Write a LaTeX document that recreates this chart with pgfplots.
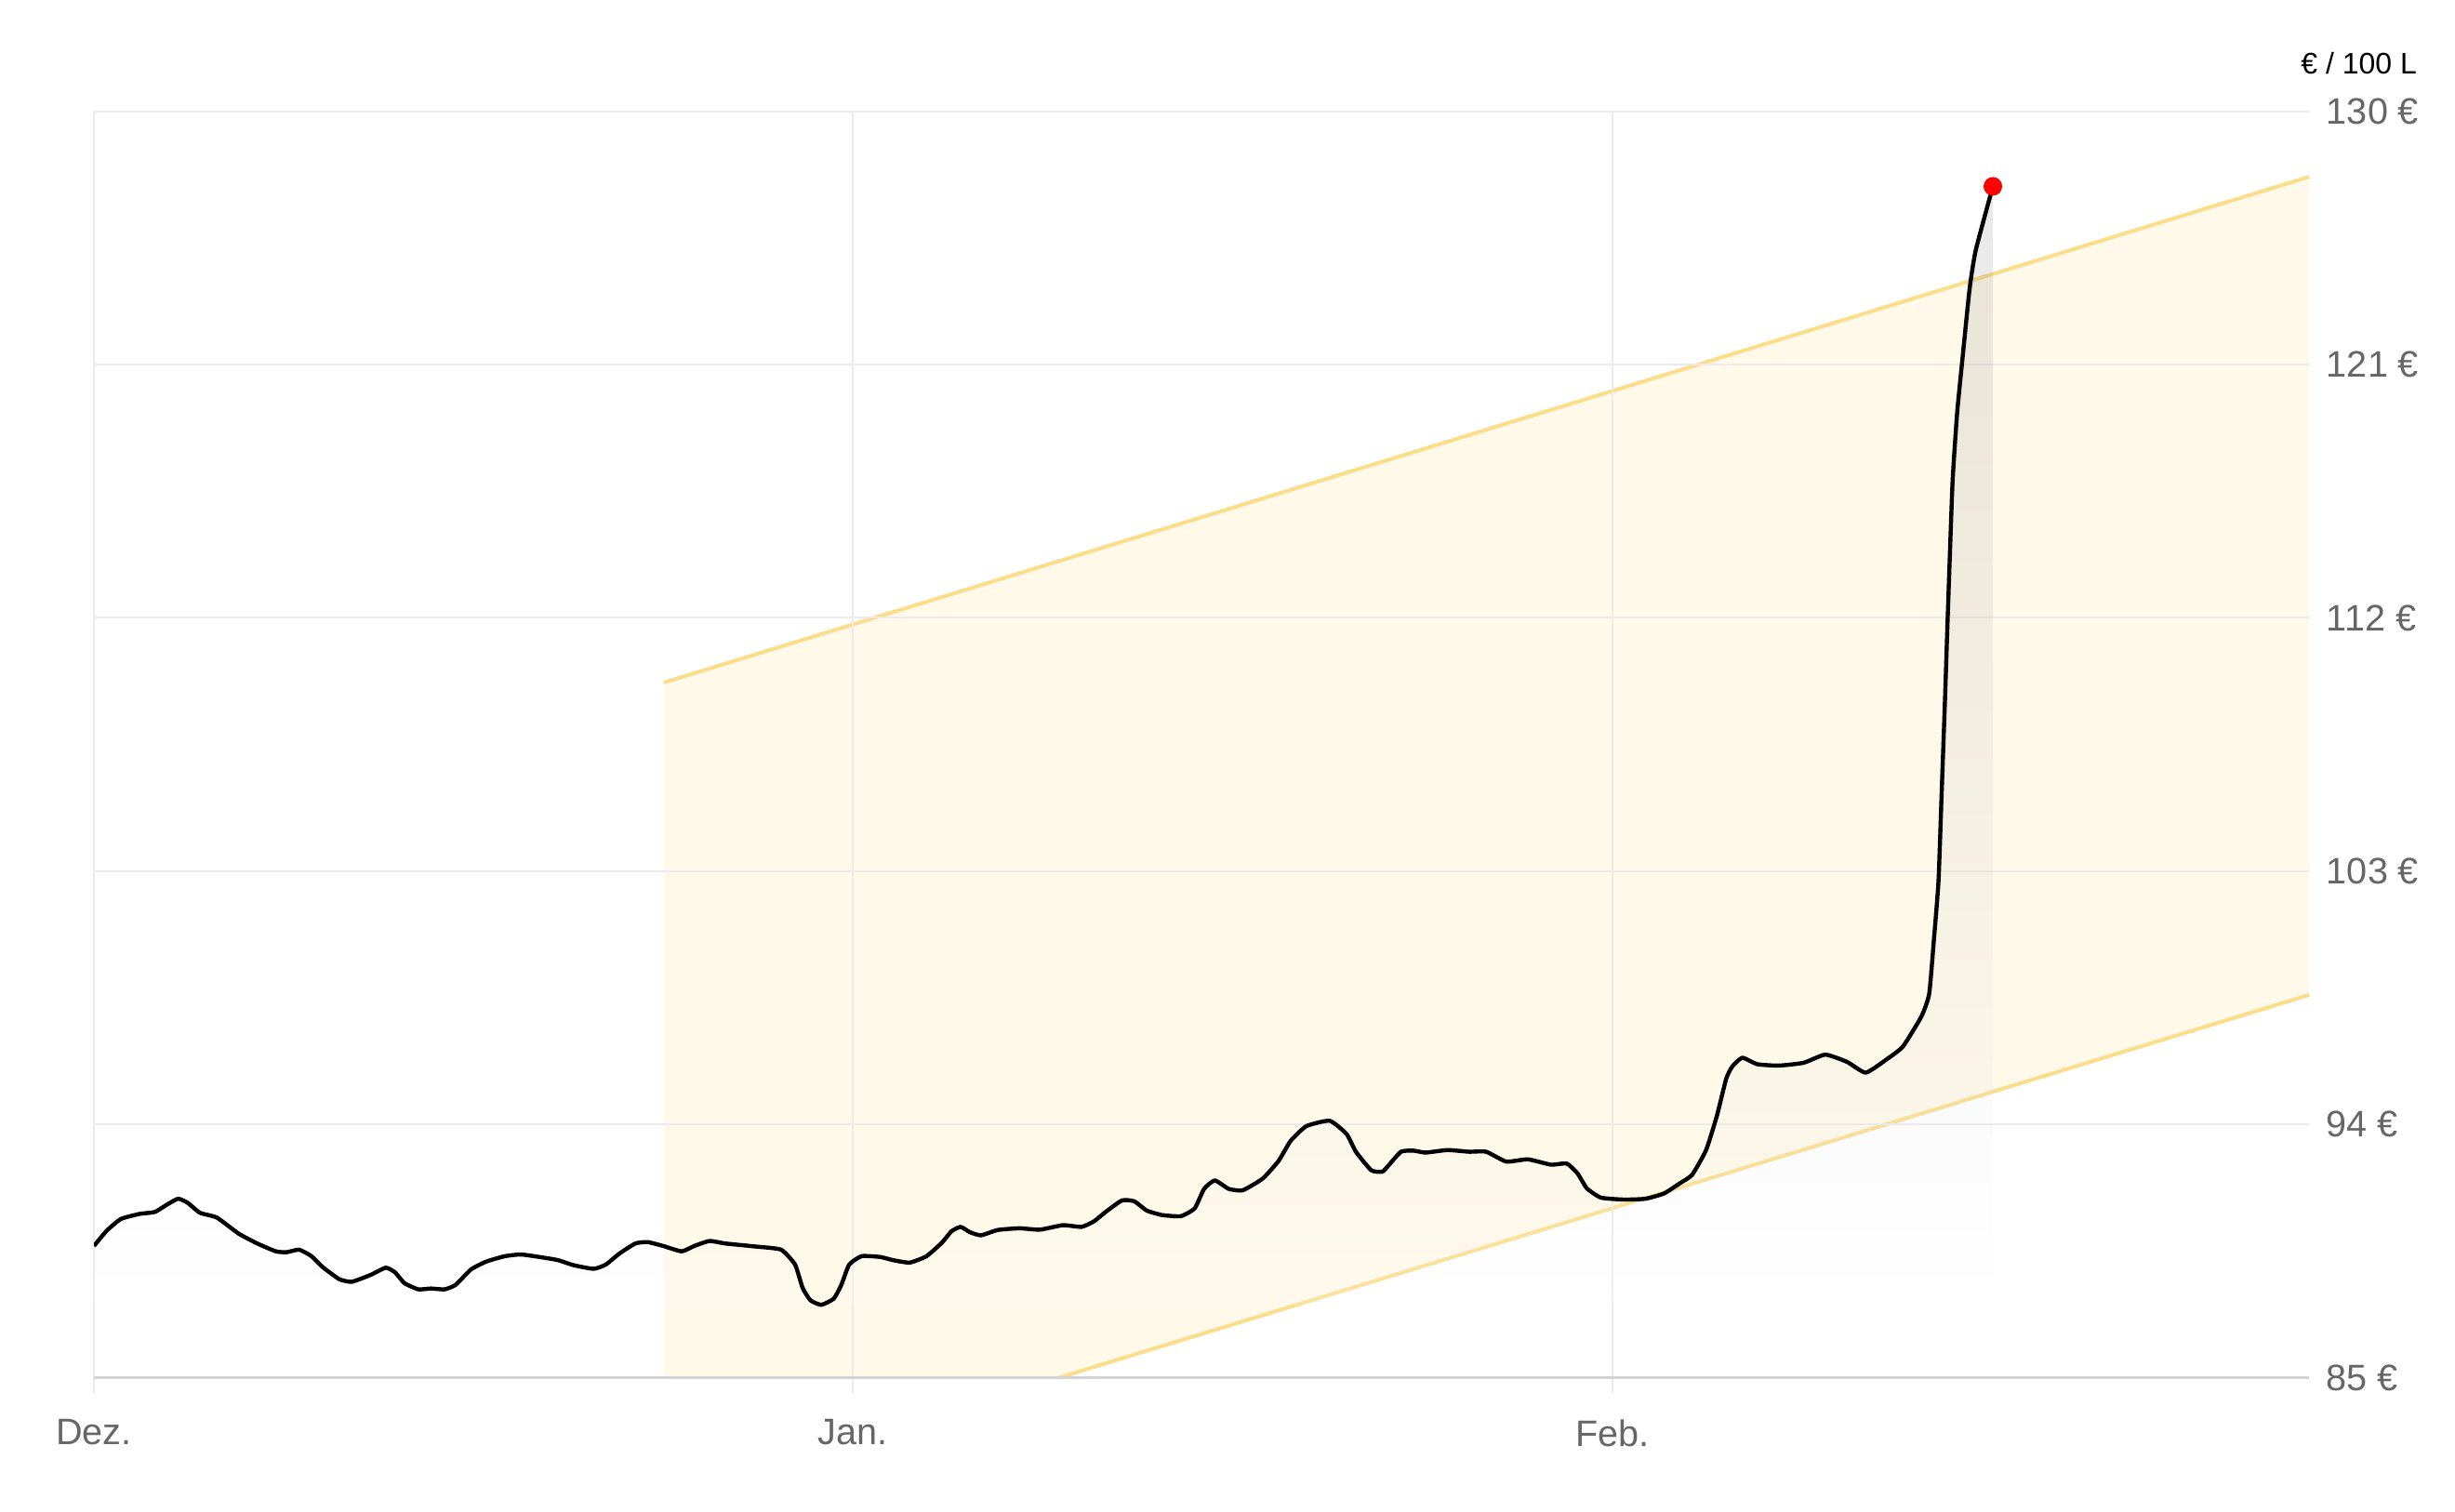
\documentclass[border=0pt]{standalone}
\usepackage{fontspec}
\setmainfont{Liberation Sans}
\usepackage{pgfplots}
\usepackage{pgfplotstable}
\pgfplotsset{compat=1.18}

\definecolor{gridgray}{HTML}{EBEBEE}
\definecolor{axisgray}{HTML}{D3D3D7}
\definecolor{labelgray}{HTML}{666666}
\definecolor{bandfill}{HTML}{FEF9E9}
\definecolor{bandline}{HTML}{FCDE8A}

% Tage ab 1. Dez., Preis in EUR / 100 L
\pgfplotstableread{
d v
0 89.68
0.53 90.23
1.10 90.64
1.86 90.82
2.49 90.89
3.00 91.16
3.44 91.36
3.82 91.22
4.33 90.86
5.02 90.69
5.91 90.12
6.67 89.77
7.43 89.49
7.87 89.46
8.38 89.55
8.88 89.32
9.33 88.94
10.02 88.50
10.53 88.41
11.29 88.65
11.92 88.91
12.30 88.74
12.68 88.36
13.25 88.14
13.76 88.17
14.32 88.14
14.77 88.30
15.40 88.85
16.03 89.13
16.79 89.32
17.43 89.38
18.19 89.29
18.94 89.18
19.58 89.00
20.40 88.87
20.90 89.02
21.47 89.42
22.11 89.77
22.61 89.82
23.25 89.68
24.00 89.49
24.51 89.68
25.14 89.86
25.78 89.77
27.04 89.66
28.06 89.55
28.63 89.02
28.94 88.19
29.26 87.75
29.70 87.59
30.21 87.81
30.52 88.30
30.84 89.02
31.35 89.32
32.11 89.29
32.62 89.18
33.31 89.09
34.00 89.32
34.64 89.81
35.01 90.20
35.39 90.36
35.77 90.17
36.22 90.06
36.91 90.25
37.80 90.31
38.62 90.26
39.57 90.42
40.33 90.36
40.84 90.56
41.34 90.91
41.98 91.30
42.48 91.27
42.99 90.94
43.62 90.78
44.38 90.74
44.95 91.02
45.33 91.71
45.77 92.01
46.34 91.71
46.91 91.66
47.73 92.08
48.37 92.70
48.87 93.42
49.51 93.94
50.46 94.13
51.15 93.66
51.53 93.03
52.16 92.37
52.61 92.32
52.86 92.54
53.37 93.03
53.87 93.07
54.38 93.00
55.27 93.09
56.15 93.03
56.85 93.03
57.67 92.68
58.55 92.76
59.50 92.57
60.14 92.61
60.58 92.26
60.96 91.73
61.53 91.40
62.48 91.33
63.36 91.36
64.12 91.55
64.76 91.91
65.26 92.21
65.83 93.09
66.27 94.30
66.65 95.62
66.90 96.06
67.31 96.37
67.92 96.14
68.80 96.09
69.81 96.19
70.70 96.48
71.59 96.22
72.35 95.84
73.23 96.33
73.87 96.77
74.63 97.85
74.94 98.64
75.13 100.54
75.32 102.64
75.45 105.80
75.58 108.96
75.70 112.12
75.89 116.75
76.08 119.27
76.27 120.96
76.59 123.69
76.84 125.06
77.54 127.33
}\pricedata

\begin{document}
\begin{tikzpicture}
\begin{axis}[
  set layers,
  scale only axis,
  width=595.5pt, height=340.5pt,
  xmin=0, xmax=90.45, ymin=85, ymax=130,
  axis x line=bottom, axis y line=right,
  x axis line style={-, draw=axisgray, line width=0.7pt},
  y axis line style={draw=none},
  xtick={0,31,62}, xticklabels={Dez.,Jan.,Feb.},
  ytick={85,94,103,112,121,130},
  yticklabels={85 €,94 €,103 €,112 €,121 €,130 €},
  grid=major,
  major grid style={draw=gridgray, line width=0.5pt},
  tick align=outside, major tick length=4.2pt,
  xtick style={draw=gridgray, line width=0.5pt},
  ytick style={draw=none},
  ticklabel style={font=\fontsize{9.9}{11}\selectfont, text=labelgray},
  xticklabel style={yshift=-3.5pt},
  yticklabel style={anchor=west, xshift=-3pt},
]

% Korridor
\addplot[on layer=axis background, draw=none, fill=bandfill]
  coordinates {(23.27,85) (23.27,109.7) (90.45,127.67) (90.45,98.6) (39.4,85)} -- cycle;
\addplot[on layer=axis background, draw=bandline, line width=1pt]
  coordinates {(23.27,109.7) (90.45,127.67)};
\addplot[on layer=axis background, draw=bandline, line width=1pt]
  coordinates {(39.4,85) (90.45,98.6)};

% Verlaufsfläche unter der Kurve
\addplot[draw=none, top color=black!55, bottom color=white, fill opacity=0.16]
  table[x=d, y=v] {\pricedata}
  -- (axis cs:77.54,87.59) -- (axis cs:0,87.59) -- cycle;

% Preis
\addplot[draw=black, line width=1.1pt, smooth, tension=0.3, line join=round]
  table[x=d, y=v] {\pricedata};

\addplot[only marks, mark=*, mark size=2.3pt, color=red] coordinates {(77.54,127.33)};
\end{axis}
\node[anchor=east, font=\fontsize{8}{9}\selectfont]
  at ([shift={(32.5pt,13pt)}]current axis.north east) {€ / 100 L};
\pgfresetboundingbox
\path ([shift={(-25.25pt,-36pt)}]current axis.south west) rectangle ([shift={(39.25pt,29.9pt)}]current axis.north east);
\end{tikzpicture}
\end{document}
